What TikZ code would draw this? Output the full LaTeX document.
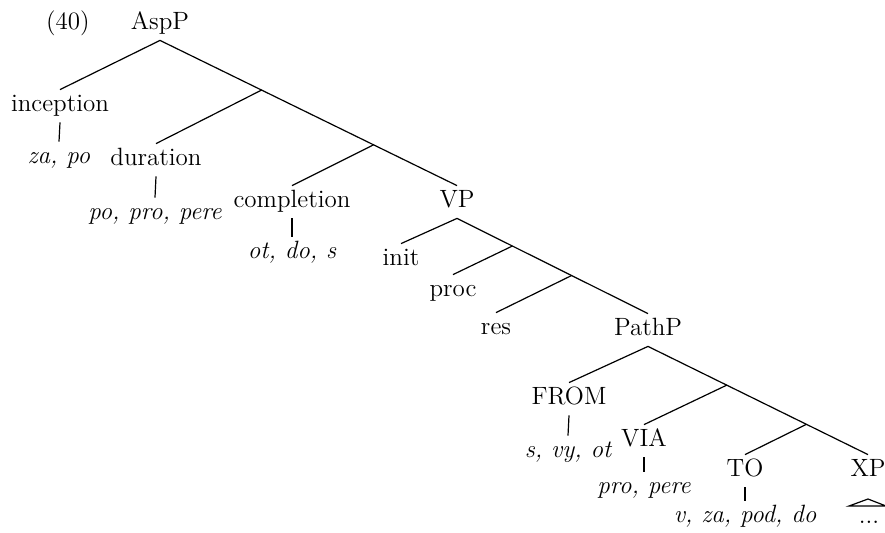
\documentclass[tikz,border=0pt]{standalone}
\usetikzlibrary{calc}
\begin{document}
\begin{tikzpicture}[x=0.5pt,y=-0.5pt,
  lbl/.style={anchor=base,inner xsep=1pt,inner ysep=2pt,
    text height=8.5pt,text depth=3.5pt,font=\fontsize{12.5}{15}\selectfont},
  lex/.style={lbl,font=\fontsize{12.5}{15}\selectfont\itshape},
  branch/.style={line width=0.6pt}]
\useasboundingbox (0,0) rectangle (885,532);

% example number and root
\node[lbl] (ex) at (68,29) {(40)};
\node[lbl] (AspP) at (160,29) {AspP};

% aspectual heads with their prefixes
\node[lbl] (inception) at (60,111) {inception};
\node[lex] (incList) at (59,163) {za, po};
\node[lbl] (duration) at (156,165) {duration};
\node[lex] (durList) at (155,219) {po, pro, pere};
\node[lbl] (completion) at (292,207) {completion};
\node[lex] (compList) at (292,258) {ot, do, s};

% VP and its decomposition
\node[lbl] (VP) at (457,207) {VP};
\node[lbl] (init) at (401,265) {init};
\node[lbl] (proc) at (453,296) {proc};
\node[lbl] (res) at (496,334) {res};

% PathP and its heads
\node[lbl] (PathP) at (648,335) {PathP};
\node[lbl] (FROM) at (569,404) {FROM};
\node[lex] (fromList) at (568,457) {s, vy, ot};
\node[lbl] (VIA) at (644,446) {VIA};
\node[lex] (viaList) at (644,493) {pro, pere};
\node[lbl] (TO) at (745,476) {TO};
\node[lex] (toList) at (745,522) {v, za, pod, do};
\node[lbl] (XP) at (868,476) {XP};
\node[lbl] (dots) at (869,523) {...};

% branching points on the right spines
\coordinate (X1) at ($(AspP.south)!0.342!(VP.north)$);
\coordinate (X2) at ($(AspP.south)!0.719!(VP.north)$);
\coordinate (Y1) at ($(VP.south)!0.29!(PathP.north)$);
\coordinate (Y2) at ($(VP.south)!0.60!(PathP.north)$);
\coordinate (Z1) at ($(PathP.south)!0.358!(XP.north)$);
\coordinate (Z2) at ($(PathP.south)!0.72!(XP.north)$);

% AspP subtree
\draw[branch] (AspP.south) -- (inception.north);
\draw[branch] (AspP.south) -- (X1) -- (X2) -- (VP.north);
\draw[branch] (X1) -- (duration.north);
\draw[branch] (X2) -- (completion.north);
\draw[branch] (inception.south) -- (incList.north);
\draw[branch] (duration.south) -- (durList.north);
\draw[branch] (completion.south) -- (compList.north);

% VP subtree
\draw[branch] (VP.south) -- (init.north);
\draw[branch] (VP.south) -- (Y1) -- (Y2) -- (PathP.north);
\draw[branch] (Y1) -- (proc.north);
\draw[branch] (Y2) -- (res.north);

% PathP subtree
\draw[branch] (PathP.south) -- (FROM.north);
\draw[branch] (PathP.south) -- (Z1) -- (Z2) -- (XP.north);
\draw[branch] (Z1) -- (VIA.north);
\draw[branch] (Z2) -- (TO.north);
\draw[branch] (FROM.south) -- (fromList.north);
\draw[branch] (VIA.south) -- (viaList.north);
\draw[branch] (TO.south) -- (toList.north);

% roof over the elided XP material
\coordinate (roofL) at ([shift={(-20,-17)}]dots.base);
\coordinate (roofT) at ([shift={(-1,-24)}]dots.base);
\coordinate (roofR) at ([shift={(17,-17)}]dots.base);
\draw[branch] (roofL) -- (roofT) -- (roofR) -- cycle;
\end{tikzpicture}
\end{document}
